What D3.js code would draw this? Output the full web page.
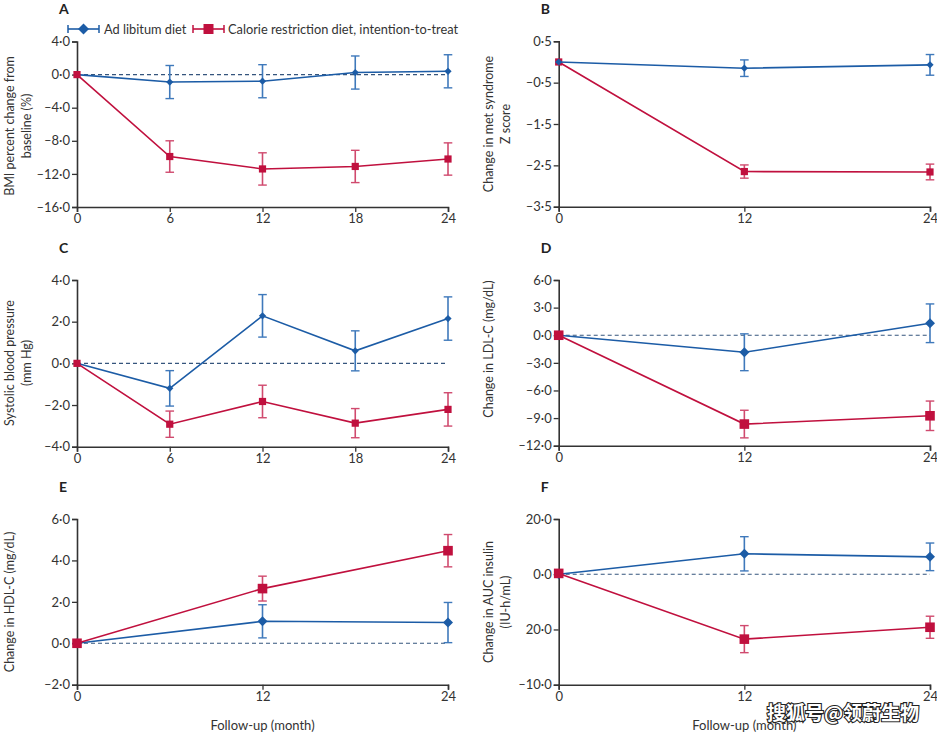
<!DOCTYPE html>
<html>
<head>
<meta charset="utf-8">
<script src="https://cdn.jsdelivr.net/npm/d3@7"></script>
<style>
  body { margin: 0; background: #fff; }
  svg { display: block; font-family: Lato, "Open Sans", sans-serif; }
</style>
</head>
<body>
<svg id="chart" width="937" height="733"></svg>
<script>
// follow-up months
var months5 = [0, 6, 12, 18, 24];
var months3 = [0, 12, 24];

// A: BMI percent change
var bmiAL = [0, -0.9, -0.8, 0.25, 0.4];
var bmiALErr = [0, 2.0, 2.0, 2.0, 2.0];
var bmiCR = [0, -9.9, -11.4, -11.1, -10.2];
var bmiCRErr = [0, 1.9, 1.95, 1.95, 1.95];

// B: met syndrome Z score
var metAL = [0, -0.15, -0.07];
var metALErr = [0, 0.2, 0.25];
var metCR = [0, -2.65, -2.66];
var metCRErr = [0, 0.16, 0.19];

// C: systolic blood pressure
var sbpAL = [0, -1.2, 2.28, 0.6, 2.15];
var sbpALErr = [0, 0.85, 1.02, 0.96, 1.04];
var sbpCR = [0, -2.92, -1.83, -2.87, -2.21];
var sbpCRErr = [0, 0.63, 0.78, 0.7, 0.8];

// D: LDL-C
var ldlAL = [0, -1.85, 1.3];
var ldlALErr = [0, 2.0, 2.1];
var ldlCR = [0, -9.65, -8.75];
var ldlCRErr = [0, 1.5, 1.6];

// E: HDL-C
var hdlAL = [0, 1.06, 1.0];
var hdlALErr = [0, 0.8, 0.97];
var hdlCR = [0, 2.64, 4.47];
var hdlCRErr = [0, 0.6, 0.78];

// F: AUC insulin
var aucAL = [0, 7.4, 6.3];
var aucALErr = [0, 6.2, 5.0];
var aucCR = [0.3, -23.5, -19.2];
var aucCRErr = [0, 4.9, 4.0];

// tick values
var ticksA = [4, 0, -4, -8, -12, -16];
var ticksB = [0.5, -0.5, -1.5, -2.5, -3.5];
var ticksC = [4, 2, 0, -2, -4];
var ticksD = [6, 3, 0, -3, -6, -9, -12];
var ticksE = [6, 4, 2, 0, -2];
var ticksF = [20, 0, -20, -40];
var tickLabelsF = ["20·0", "0·0", "20·0", "–10·0"];

var legendNames = ["Ad libitum diet", "Calorie restriction diet, intention-to-treat"];

var blue = "#1c5ca6", blueErr = "#3f79bb";
var red = "#c0103e", redErr = "#d04a6e";
var ink = "#333";

var svg = d3.select("#chart");

var fmt = function (d) {
    return d3.format(".1f")(d).replace(".", "·").replace("-", "–").replace("−", "–");
};

var panels = [
    {id: "A", x0: 77, x1: 448, y0: 41.5, y1: 207, dom: [-16, 4], ticks: ticksA, months: months5,
     al: bmiAL, alErr: bmiALErr, cr: bmiCR, crErr: bmiCRErr, zero: true, big: false, redTop: true,
     label: ["BMI percent change from", "baseline (%)"], lx: [9, 26], ly: 126},
    {id: "B", x0: 558.7, x1: 930, y0: 41.3, y1: 206.7, dom: [-3.5, 0.5], ticks: ticksB, months: months3,
     al: metAL, alErr: metALErr, cr: metCR, crErr: metCRErr, zero: false, big: false, redTop: false,
     label: ["Change in met syndrome", "Z score"], lx: [488, 505], ly: 124},
    {id: "C", x0: 77, x1: 448, y0: 280, y1: 446.7, dom: [-4, 4], ticks: ticksC, months: months5,
     al: sbpAL, alErr: sbpALErr, cr: sbpCR, crErr: sbpCRErr, zero: true, big: false, redTop: true,
     label: ["Systolic blood pressure", "(mm Hg)"], lx: [9, 26], ly: 363},
    {id: "D", x0: 558.7, x1: 930, y0: 280, y1: 445.7, dom: [-12, 6], ticks: ticksD, months: months3,
     al: ldlAL, alErr: ldlALErr, cr: ldlCR, crErr: ldlCRErr, zero: true, big: true, redTop: true,
     label: ["Change in LDL-C (mg/dL)"], lx: [488], ly: 349},
    {id: "E", x0: 77, x1: 448, y0: 519, y1: 684.7, dom: [-2, 6], ticks: ticksE, months: months3,
     al: hdlAL, alErr: hdlALErr, cr: hdlCR, crErr: hdlCRErr, zero: true, big: true, redTop: true,
     label: ["Change in HDL-C (mg/dL)"], lx: [9], ly: 602, xlabel: true},
    {id: "F", x0: 558.7, x1: 930, y0: 519, y1: 684.7, dom: [-40, 20], ticks: ticksF, tickLabels: tickLabelsF, months: months3,
     al: aucAL, alErr: aucALErr, cr: aucCR, crErr: aucCRErr, zero: true, big: true, redTop: true,
     label: ["Change in AUC insulin", "(IU-h/mL)"], lx: [488, 505], ly: 602, xlabel: true}
];

function diamond(r) {
    return "M0," + (-r) + "L" + r + ",0L0," + r + "L" + (-r) + ",0Z";
}

function drawSeries(g, x, y, months, vals, errs, color, ecolor, shape, big) {
    var cap = 4.3;
    for (var i = 0; i < months.length; i++) {
        if (errs[i] > 0) {
            var cx = x(months[i]);
            g.append("line").attr("x1", cx).attr("x2", cx)
                .attr("y1", y(vals[i] + errs[i])).attr("y2", y(vals[i] - errs[i]))
                .attr("stroke", ecolor).attr("stroke-width", 1.6);
            g.append("line").attr("x1", cx - cap).attr("x2", cx + cap)
                .attr("y1", y(vals[i] + errs[i])).attr("y2", y(vals[i] + errs[i]))
                .attr("stroke", ecolor).attr("stroke-width", 1.4);
            g.append("line").attr("x1", cx - cap).attr("x2", cx + cap)
                .attr("y1", y(vals[i] - errs[i])).attr("y2", y(vals[i] - errs[i]))
                .attr("stroke", ecolor).attr("stroke-width", 1.4);
        }
    }
    var line = d3.line().x(function (d, i) { return x(months[i]); }).y(function (d) { return y(d); });
    g.append("path").datum(vals).attr("d", line)
        .attr("fill", "none").attr("stroke", color).attr("stroke-width", 1.6);
    for (var j = 0; j < months.length; j++) {
        if (shape == "diamond") {
            g.append("path").attr("d", diamond(big ? 5 : 3.6))
                .attr("transform", "translate(" + x(months[j]) + "," + y(vals[j]) + ")")
                .attr("fill", color);
        } else {
            var s = big ? 9.6 : 7.2;
            g.append("rect").attr("x", x(months[j]) - s / 2).attr("y", y(vals[j]) - s / 2)
                .attr("width", s).attr("height", s).attr("fill", color);
        }
    }
}

panels.forEach(function (p) {
    var g = svg.append("g");
    var x = d3.scaleLinear().domain([0, 24]).range([p.x0, p.x1]);
    var y = d3.scaleLinear().domain(p.dom).range([p.y1, p.y0]);

    // panel letter
    g.append("text").attr("x", p.x0 - 18).attr("y", p.y0 - 27.5)
        .attr("font-size", 14).attr("font-weight", 700).attr("fill", "#222").text(p.id);

    // zero line
    if (p.zero) {
        g.append("line").attr("x1", p.x0).attr("x2", p.x1)
            .attr("y1", y(0)).attr("y2", y(0))
            .attr("stroke", "#35557d").attr("stroke-width", 1.1).attr("stroke-dasharray", "4,3");
    }

    // axes
    var yAxis = d3.axisLeft(y).tickValues(p.ticks).tickSizeOuter(0).tickSize(5).tickPadding(2)
        .tickFormat(function (d, i) { return p.tickLabels ? p.tickLabels[i] : fmt(d); });
    var xAxis = d3.axisBottom(x).tickValues(p.months).tickSizeOuter(0).tickSize(5).tickPadding(2)
        .tickFormat(d3.format("d"));

    var ya = g.append("g").attr("transform", "translate(" + p.x0 + ",0)").call(yAxis);
    var xa = g.append("g").attr("transform", "translate(0," + p.y1 + ")").call(xAxis);
    [ya, xa].forEach(function (a) {
        a.select(".domain").attr("stroke", ink).attr("stroke-width", 1.6);
        a.selectAll(".tick line").attr("stroke", ink).attr("stroke-width", 1.3);
        a.selectAll(".tick text").attr("fill", ink).attr("font-size", 13)
            .attr("font-family", "Lato, 'Open Sans', sans-serif");
    });

    // y label
    p.label.forEach(function (t, i) {
        g.append("text").attr("transform", "translate(" + p.lx[i] + "," + p.ly + ") rotate(-90)")
            .attr("text-anchor", "middle").attr("dominant-baseline", "central")
            .attr("font-size", 12.5).attr("fill", ink).text(t);
    });

    if (p.xlabel) {
        g.append("text").attr("x", (p.x0 + p.x1) / 2).attr("y", 730)
            .attr("text-anchor", "middle").attr("font-size", 13).attr("fill", ink)
            .text("Follow-up (month)");
    }

    if (p.redTop) {
        drawSeries(g, x, y, p.months, p.al, p.alErr, blue, blueErr, "diamond", p.big);
        drawSeries(g, x, y, p.months, p.cr, p.crErr, red, redErr, "square", p.big);
    } else {
        drawSeries(g, x, y, p.months, p.cr, p.crErr, red, redErr, "square", p.big);
        drawSeries(g, x, y, p.months, p.al, p.alErr, blue, blueErr, "diamond", p.big);
    }
});

// legend
var leg = svg.append("g");
var legItems = [
    {x1: 68, x2: 99, color: blue, shape: "diamond", tx: 104, name: legendNames[0]},
    {x1: 193, x2: 224, color: red, shape: "square", tx: 228, name: legendNames[1]}
];
legItems.forEach(function (d) {
    var ly = 29;
    leg.append("line").attr("x1", d.x1).attr("x2", d.x2).attr("y1", ly).attr("y2", ly)
        .attr("stroke", d.color).attr("stroke-width", 1.6);
    leg.append("line").attr("x1", d.x1).attr("x2", d.x1).attr("y1", ly - 4).attr("y2", ly + 4)
        .attr("stroke", d.color).attr("stroke-width", 1.5);
    leg.append("line").attr("x1", d.x2).attr("x2", d.x2).attr("y1", ly - 4).attr("y2", ly + 4)
        .attr("stroke", d.color).attr("stroke-width", 1.5);
    var mx = (d.x1 + d.x2) / 2;
    if (d.shape == "diamond") {
        leg.append("path").attr("d", diamond(5.5)).attr("transform", "translate(" + mx + "," + ly + ")")
            .attr("fill", d.color);
    } else {
        leg.append("rect").attr("x", mx - 5).attr("y", ly - 5).attr("width", 10).attr("height", 10)
            .attr("fill", d.color);
    }
    leg.append("text").attr("x", d.tx).attr("y", ly).attr("dominant-baseline", "central")
        .attr("font-size", 12.8).attr("fill", ink).text(d.name);
});

// watermark
svg.append("text").attr("x", 843).attr("y", 711).attr("text-anchor", "middle")
    .attr("dominant-baseline", "central")
    .attr("font-family", "'Noto Sans CJK SC', sans-serif").attr("font-weight", 700)
    .attr("font-size", 19).attr("fill", "#fff").attr("stroke", "#222").attr("stroke-width", 2.2)
    .attr("paint-order", "stroke").text("搜狐号@领蔚生物");
</script>
</body>
</html>
